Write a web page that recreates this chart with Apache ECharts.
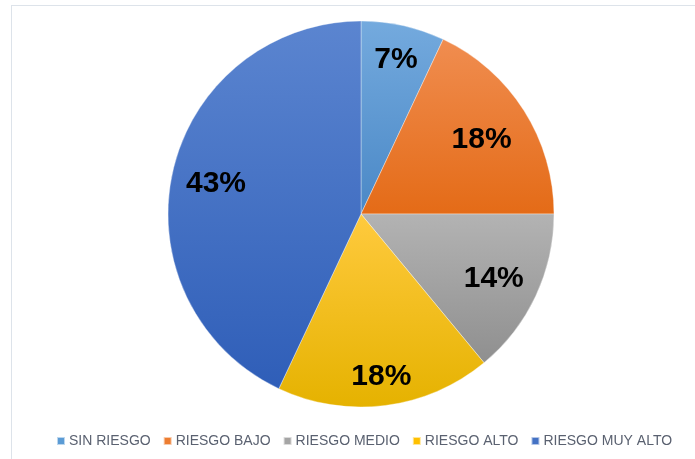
<!DOCTYPE html>
<html>
<head>
<meta charset="utf-8">
<script src="https://cdn.jsdelivr.net/npm/echarts@6/dist/echarts.min.js"></script>
<style>
html,body{margin:0;padding:0;background:#fff;}
#chart{width:695px;height:459px;}
</style>
</head>
<body>
<div id="chart"></div>
<script>
var categories = ['SIN RIESGO', 'RIESGO BAJO', 'RIESGO MEDIO', 'RIESGO ALTO', 'RIESGO MUY ALTO'];
var values = [7, 18, 14, 18, 43];

var topColors = ['#74aade', '#f08d50', '#b3b3b3', '#ffca3e', '#5b85d0'];
var bottomColors = ['#4a88c6', '#e46b17', '#8f8f8f', '#e5b200', '#2f5eb8'];
var legendColors = ['#5b9bd5', '#ed7d31', '#a5a5a5', '#ffc000', '#4472c4'];
var labelRatio = [0.83, 0.74, 0.76, 0.84, 0.77];

var CX = 361, CY = 214, R = 193;

var total = values.reduce(function (a, b) { return a + b; }, 0);
var cum = [];
var acc = 0;
values.forEach(function (v) { cum.push(acc + v / 2); acc += v; });

var data = categories.map(function (c, i) {
  return {
    name: c,
    value: values[i],
    itemStyle: {
      color: {
        type: 'linear', x: 0, y: 0, x2: 0, y2: 1,
        colorStops: [{ offset: 0, color: topColors[i] }, { offset: 1, color: bottomColors[i] }]
      }
    }
  };
});

var chart = echarts.init(document.getElementById('chart'));
chart.setOption({
  backgroundColor: '#ffffff',
  animation: false,
  color: legendColors,
  graphic: [
    { type: 'line', shape: { x1: 11, y1: 5.5, x2: 695, y2: 5.5 }, style: { stroke: '#dde3ea', lineWidth: 1 } },
    { type: 'line', shape: { x1: 11.5, y1: 5, x2: 11.5, y2: 459 }, style: { stroke: '#dde3ea', lineWidth: 1 } }
  ],
  legend: {
    data: categories.map(function (c, i) {
      return { name: c, itemStyle: { color: legendColors[i] } };
    }),
    left: 51,
    top: 429,
    icon: 'rect',
    itemWidth: 8,
    itemHeight: 8,
    itemGap: 12,
    textStyle: { color: '#5a6170', fontSize: 14, fontFamily: 'Liberation Sans, Arial, sans-serif', padding: [0, 0, 0, -1] },
    selectedMode: false
  },
  series: [{
    type: 'pie',
    center: [CX, CY],
    radius: [0, R],
    startAngle: 90,
    clockwise: true,
    data: data,
    itemStyle: { borderColor: 'rgba(255,255,255,0.6)', borderWidth: 0.6 },
    label: {
      show: true,
      position: 'inside',
      formatter: function (p) { return Math.round(p.value / total * 100) + '%'; },
      color: '#000000',
      fontSize: 30,
      fontWeight: 'bold',
      fontFamily: 'Liberation Sans, Arial, sans-serif'
    },
    labelLine: { show: false },
    labelLayout: function (p) {
      var i = p.dataIndex;
      var ang = cum[i] / total * 2 * Math.PI;
      var r = R * labelRatio[i];
      return {
        x: CX + r * Math.sin(ang),
        y: CY - r * Math.cos(ang) + 2,
        align: 'center',
        verticalAlign: 'middle'
      };
    }
  }]
});
</script>
</body>
</html>
